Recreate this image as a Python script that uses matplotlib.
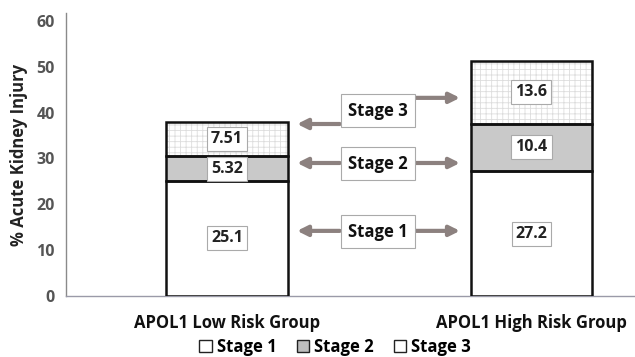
import matplotlib
matplotlib.use("Agg")
import matplotlib.pyplot as plt
from matplotlib.patches import Patch

plt.rcParams['font.family'] = ['Open Sans', 'DejaVu Sans']
plt.rcParams['font.weight'] = 'bold'
plt.rcParams['hatch.linewidth'] = 0.6

groups = ["APOL1 Low Risk Group", "APOL1 High Risk Group"]
stage_names = ["Stage 1", "Stage 2", "Stage 3"]
stage1 = [25.1, 27.2]
stage2 = [5.32, 10.4]
stage3 = [7.51, 13.6]
stage1_lbl = ["25.1", "27.2"]
stage2_lbl = ["5.32", "10.4"]
stage3_lbl = ["7.51", "13.6"]
yticks = [0, 10, 20, 30, 40, 50, 60]

fig = plt.figure(figsize=(6.35, 3.57), dpi=100)
ax = fig.add_axes([66/635, 1-296/357, 1-66/635, (296-13)/357])

x = [0, 1]
w = 0.40
fills = ['white', '#c9c9c9', 'white']
hatches = [None, None, '+++']
bottoms = [0, 0]
for vals, lbls, fc, h in zip([stage1, stage2, stage3],
                             [stage1_lbl, stage2_lbl, stage3_lbl], fills, hatches):
    ax.bar(x, vals, w, bottom=bottoms, color=fc, hatch=h, edgecolor='#dddddd',
           linewidth=0, zorder=2)
    ax.bar(x, vals, w, bottom=bottoms, fill=False, edgecolor='#111111',
           linewidth=1.8, zorder=3)
    for xi, b, v, l in zip(x, bottoms, vals, lbls):
        ax.text(xi, b + v/2, l, ha='center', va='center', fontsize=11.5,
                fontweight='bold', color='#222222', zorder=5,
                bbox=dict(boxstyle='square,pad=0.25', fc='white', ec='#aaaaaa', lw=0.8))
    bottoms = [b + v for b, v in zip(bottoms, vals)]

ax.set_xlim(-0.529, 1.34)
ax.set_ylim(0, 61.7)
ax.set_yticks(yticks)
ax.set_yticklabels([str(t) for t in yticks], fontsize=11.5, fontweight='bold', color='#555555')
ax.tick_params(axis='y', length=0, pad=8)
ax.set_xticks(x)
ax.set_xticklabels(groups, fontsize=12, fontweight='bold', color='#111111')
ax.tick_params(axis='x', length=0, pad=13)
ax.set_ylabel("% Acute Kidney Injury", fontsize=12, fontweight='bold', color='#222222', labelpad=6)

for s in ['top', 'right']:
    ax.spines[s].set_visible(False)
ax.spines['left'].set_color('#8a8a8a')
ax.spines['bottom'].set_color('#9a9aa8')
ax.spines['left'].set_linewidth(1.0)
ax.spines['bottom'].set_linewidth(1.0)

# Stage annotation boxes with arrows
arrow_col = '#8c817f'
box_x = 0.496
ann = [("Stage 3", 40.4, 37.5, 43.2), ("Stage 2", 28.8, 29.0, 29.0), ("Stage 1", 14.0, 14.2, 14.2)]
for name, yb, yl, yr in ann:
    ax.annotate("", xy=(0.23, yl), xytext=(0.37, yl),
                arrowprops=dict(arrowstyle='-|>', lw=3, color=arrow_col, mutation_scale=15,
                                shrinkA=0, shrinkB=0), zorder=4)
    ax.annotate("", xy=(0.765, yr), xytext=(0.62, yr),
                arrowprops=dict(arrowstyle='-|>', lw=3, color=arrow_col, mutation_scale=15,
                                shrinkA=0, shrinkB=0), zorder=4)
    ax.text(box_x, yb, name, ha='center', va='center', fontsize=12, fontweight='bold',
            color='#111111', zorder=6,
            bbox=dict(boxstyle='square,pad=0.45', fc='white', ec='#aaaaaa', lw=0.8))

handles = [Patch(facecolor=fc, edgecolor='#222222', linewidth=1.0) for fc in ['white', '#bdbdbd', 'white']]
fig.legend(handles, stage_names, loc='center', bbox_to_anchor=(0.528, 0.028), ncol=3,
           frameon=False, handlelength=0.75, handleheight=0.75,
           handletextpad=0.3, columnspacing=1.2, prop={'weight': 'bold', 'size': 12})

fig.savefig("out.png", dpi=100)
